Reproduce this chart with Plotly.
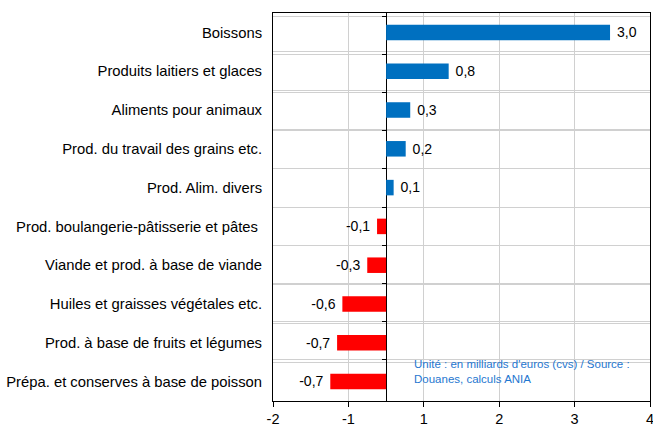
import plotly.graph_objects as go

categories = [
    "Boissons",
    "Produits laitiers et glaces",
    "Aliments pour animaux",
    "Prod. du travail des grains etc.",
    "Prod. Alim. divers",
    "Prod. boulangerie-pâtisserie et pâtes\u00a0",
    "Viande et prod. à base de viande",
    "Huiles et graisses végétales etc.",
    "Prod. à base de fruits et légumes",
    "Prépa. et conserves à base de poisson",
]
values = [2.97, 0.83, 0.32, 0.26, 0.10, -0.12, -0.25, -0.58, -0.65, -0.74]
labels = ["3,0", "0,8", "0,3", "0,2", "0,1", "-0,1", "-0,3", "-0,6", "-0,7", "-0,7"]
tick_vals = [-1.5, -0.5, 0.5, 1.5, 2.5, 3.5]
tick_text = ["-2", "-1", "1", "2", "3", "4"]

colors = ["#0070C0" if v >= 0 else "#FF0000" for v in values]
FONT = "Liberation Sans, Arial, sans-serif"

fig = go.Figure()
fig.add_trace(go.Bar(
    y=categories, x=values, orientation="h",
    marker=dict(color=colors, line=dict(width=0)),
    text=[" " + t + " " for t in labels], textposition="outside", cliponaxis=False,
    textfont=dict(family=FONT, size=14.5, color="#000000"),
    width=0.4, hoverinfo="skip",
))
fig.add_trace(go.Scatter(
    y=categories, x=[0] * len(categories), mode="markers",
    marker=dict(size=0.1, opacity=0),
    yaxis="y2", showlegend=False, hoverinfo="skip",
))

fig.update_layout(
    width=653, height=426,
    margin=dict(l=273, r=3, t=13, b=25, autoexpand=False),
    paper_bgcolor="white", plot_bgcolor="white",
    showlegend=False,
    font=dict(family=FONT, size=14.8, color="#000000"),
    xaxis=dict(
        range=[-1.5, 3.5], tickvals=tick_vals, ticktext=tick_text,
        showgrid=True, gridcolor="#d0d0d0", gridwidth=1,
        zeroline=True, zerolinecolor="#000000", zerolinewidth=1,
        showline=True, linecolor="#000000", linewidth=1, mirror=True,
        ticks="outside", ticklen=5, tickcolor="#000000",
        tickfont=dict(family=FONT, size=14.5), automargin=False,
        ticklabeloverflow="allow",
    ),
    yaxis=dict(
        autorange="reversed", type="category",
        tickson="boundaries", showgrid=True, gridcolor="#d0d0d0", gridwidth=1,
        showline=True, linecolor="#000000", linewidth=1, mirror=True,
        ticks="", ticklabelstandoff=7, automargin=False,
        tickfont=dict(family=FONT, size=14.8),
    ),
    yaxis2=dict(
        overlaying="y", anchor="free", position=0.3, side="left",
        autorange="reversed", type="category", categoryarray=categories,
        tickson="boundaries", ticks="outside", ticklen=4, tickcolor="#000000",
        showticklabels=False, showgrid=True, gridcolor="#d0d0d0", gridwidth=1,
        showline=False, zeroline=False, layer="below traces",
        automargin=False,
    ),
    annotations=[dict(
        xref="paper", yref="paper", x=0.37, y=0.115, xanchor="left", yanchor="top",
        text="Unité : en milliards d'euros (cvs) / Source :<br>Douanes, calculs ANIA",
        showarrow=False, align="left",
        font=dict(family=FONT, size=11.5, color="#1F77D0"),
    )],
)

fig.write_html("out.html", config={"displayModeBar": False},
               post_script="document.body.style.margin='0';")
